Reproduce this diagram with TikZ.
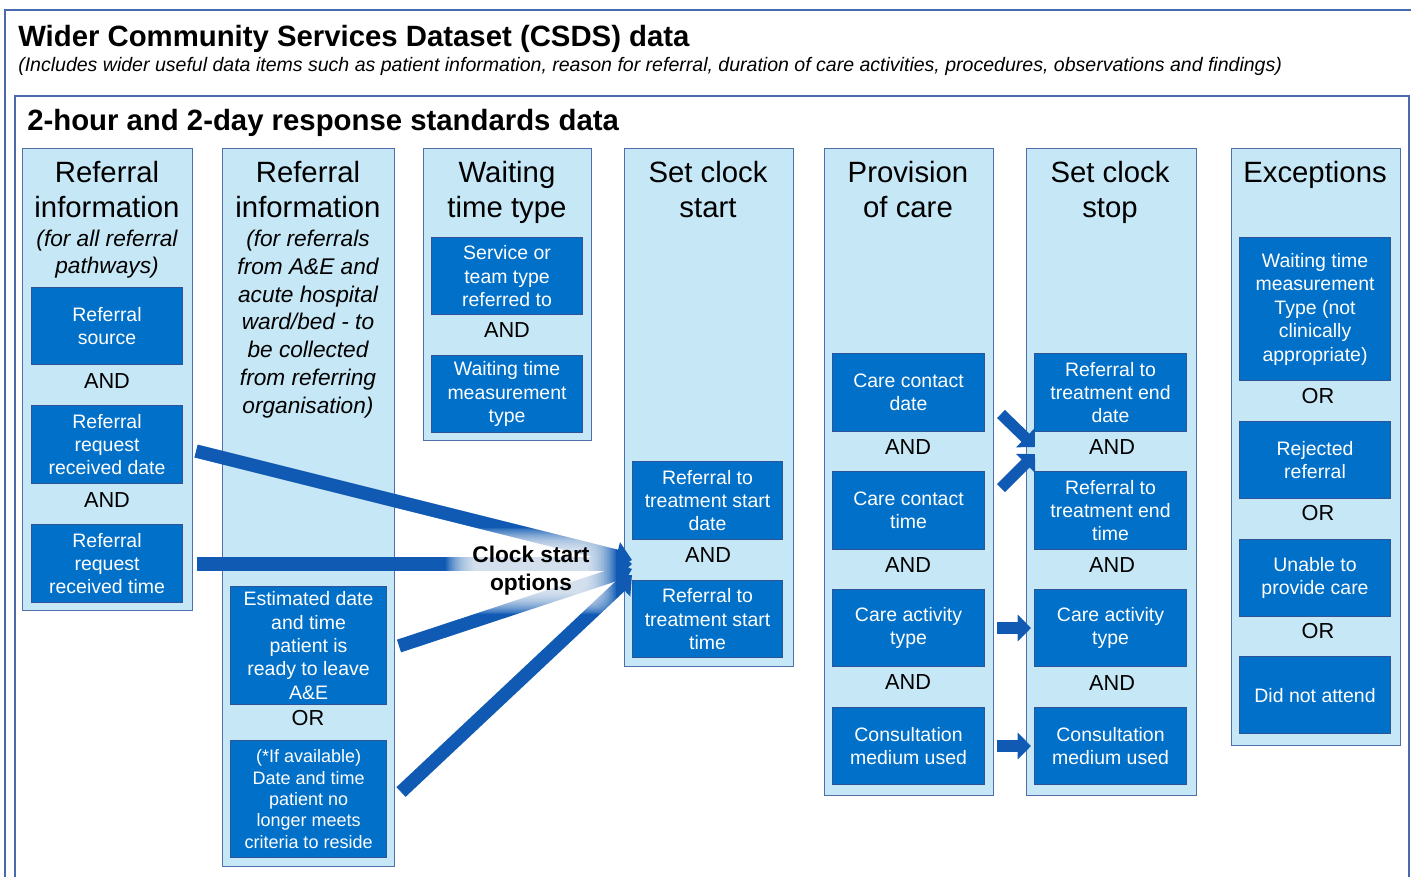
\documentclass[tikz,border=0pt]{standalone}
\usepackage{fontspec}
\setmainfont{Liberation Sans}
\usetikzlibrary{arrows.meta}
\definecolor{framec}{HTML}{4A6AAE}
\definecolor{colfill}{HTML}{C6E7F5}
\definecolor{colline}{HTML}{4F6FAB}
\definecolor{boxfill}{HTML}{0070C9}
\definecolor{boxline}{HTML}{2F5597}
\definecolor{bandc}{HTML}{105AB4}
\newcommand\fs[2]{\fontsize{#1}{#2}\selectfont}

\begin{document}
\begin{tikzpicture}[x=0.75pt,y=-0.75pt,
  frame/.style={draw=framec,line width=0.9pt},
  colbox/.style 2 args={draw=colline,fill=colfill,line width=0.9pt,anchor=north west,inner sep=0pt,
    minimum width=#1*0.75pt,minimum height=#2*0.75pt},
  dbox/.style 2 args={draw=boxline,fill=boxfill,text=white,line width=0.8pt,anchor=north west,inner sep=0pt,
    align=center,minimum width=#1*0.75pt,minimum height=#2*0.75pt,font=\fs{14.6}{17.6}},
  hdr/.style={font=\fs{22}{26.25},align=center,inner sep=0pt},
  sub/.style={font=\fs{17}{20.8}\itshape,align=center,inner sep=0pt},
  conj/.style={font=\fs{16.3}{19},inner sep=0pt},
  band/.style={draw=bandc,line width=10pt,-{Triangle[length=12pt,width=21pt]}},
  sarrow/.style={draw=bandc,line width=8.5pt,-{Triangle[length=10pt,width=19.5pt]}},
  halo/.style={fill=white,opacity=0.085,rounded corners=10pt,inner sep=0pt}]
\useasboundingbox (0,0) rectangle (1411,876);
\clip (0,0) rectangle (1411,876);

% outer and inner frames
\draw[frame] (5,10) rectangle (1430,900);
\node[anchor=base west,inner sep=0pt,font=\fs{22}{26}\bfseries] (title) at (18,46) {Wider Community Services Dataset (CSDS) data};
\node[anchor=base west,inner sep=0pt,font=\fs{14.65}{17}\itshape] (subtitle) at (18,71) {(Includes wider useful data items such as patient information, reason for referral, duration of care activities, procedures, observations and findings)};
\draw[frame] (15,96) rectangle (1409,900);
\node[anchor=base west,inner sep=0pt,font=\fs{22}{26}\bfseries] (sect) at (27,130) {2-hour and 2-day response standards data};

% columns
\node[colbox={170}{462}] (col1) at (22,148) {};
\node[colbox={172}{718}] (col2) at (222,148) {};
\node[colbox={168}{292}] (col3) at (423,148) {};
\node[colbox={169}{518}] (col4) at (624,148) {};
\node[colbox={169}{647}] (col5) at (824,148) {};
\node[colbox={170}{647}] (col6) at (1026,148) {};
\node[colbox={169}{597}] (col7) at (1231,148) {};

% column 1: referral information
\node[hdr] (h1) at (107,190) {Referral\\information};
\node[sub] (s1) at (107,254) {(for all referral\\pathways)};
\node[dbox={151}{77}] (b11) at (31,287) {Referral\\source};
\node[conj] at (107,381) {AND};
\node[dbox={151}{78}] (b12) at (31,405) {Referral\\request\\received date};
\node[conj] at (107,500) {AND};
\node[dbox={151}{78}] (b13) at (31,524) {Referral\\request\\received time};

% column 2: referral information from A&E
\node[hdr] (h2) at (308,190) {Referral\\information};
\node[sub] (s2) at (308,324) {(for referrals\\from A\&E and\\acute hospital\\ward/bed - to\\be collected\\from referring\\organisation)};
\node[dbox={156}{118}] (b21) at (230,586) {Estimated date\\and time\\patient is\\ready to leave\\A\&E};
\node[conj] at (308,718) {OR};
\node[dbox={156}{117},font=\fs{13.5}{16.1}] (b22) at (230,740) {(*If available)\\Date and time\\patient no\\longer meets\\criteria to reside};

% column 3: waiting time type
\node[hdr] (h3) at (507,192) {Waiting\\time type};
\node[dbox={151}{77}] (b31) at (431,237) {Service or\\team type\\referred to};
\node[conj] at (507,330) {AND};
\node[dbox={151}{77}] (b32) at (431,355) {Waiting time\\measurement\\type};

% column 4: set clock start
\node[hdr] (h4) at (708,190) {Set clock\\start};
\node[dbox={150}{78}] (b41) at (632,461) {Referral to\\treatment start\\date};
\node[conj] at (708,555) {AND};
\node[dbox={150}{77}] (b42) at (632,580) {Referral to\\treatment start\\time};

% column 5: provision of care
\node[hdr] (h5) at (908,190) {Provision\\of care};
\node[dbox={152}{78}] (b51) at (832,353) {Care contact\\date};
\node[conj] at (908,447) {AND};
\node[dbox={152}{78}] (b52) at (832,471) {Care contact\\time};
\node[conj] at (908,565) {AND};
\node[dbox={152}{77}] (b53) at (832,589) {Care activity\\type};
\node[conj] at (908,682) {AND};
\node[dbox={152}{77}] (b54) at (832,707) {Consultation\\medium used};

% column 6: set clock stop
\node[hdr] (h6) at (1110,192) {Set clock\\stop};
\node[dbox={152}{78}] (b61) at (1034,353) {Referral to\\treatment end\\date};
\node[conj] at (1112,447) {AND};
\node[dbox={152}{78}] (b62) at (1034,471) {Referral to\\treatment end\\time};
\node[conj] at (1112,565) {AND};
\node[dbox={152}{77}] (b63) at (1034,589) {Care activity\\type};
\node[conj] at (1112,683) {AND};
\node[dbox={152}{77}] (b64) at (1034,707) {Consultation\\medium used};

% column 7: exceptions
\node[hdr] (h7) at (1315,175) {Exceptions};
\node[dbox={151}{143}] (b71) at (1239,237) {Waiting time\\measurement\\Type (not\\clinically\\appropriate)};
\node[conj] at (1318,396) {OR};
\node[dbox={151}{77}] (b72) at (1239,421) {Rejected\\referral};
\node[conj] at (1318,513) {OR};
\node[dbox={151}{77}] (b73) at (1239,539) {Unable to\\provide care};
\node[conj] at (1318,631) {OR};
\node[dbox={151}{77}] (b74) at (1239,656) {Did not attend};

% clock start option bands
\coordinate (p1) at (196,451);
\coordinate (p2) at (197,564);
\coordinate (p3) at (399,646);
\coordinate (p4) at (401,792);
\coordinate (q1) at (632,560);
\coordinate (q2) at (632,564);
\coordinate (q3) at (632,569);
\coordinate (q4) at (632,575);
\draw[band] (p1) -- (q1);
\draw[band] (p2) -- (q2);
\draw[band] (p3) -- (q3);
\draw[band] (p4) -- (q4);

% soft white glow behind the label
\coordinate (cso) at (531,571);
\foreach \k in {0,...,19}
  \node[halo,minimum width={(170-3*\k)*0.75pt},minimum height={(86-2.2*\k)*0.75pt}] at (cso) {};
\node[font=\fs{17}{21}\bfseries,align=center,inner sep=0pt] (csolabel) at (cso) {Clock start\\options};

% provision of care to set clock stop
\coordinate (r1) at (1001,414);
\coordinate (r2) at (1001,488);
\coordinate (r3) at (997,628);
\coordinate (r4) at (997,746);
\coordinate (u1) at (1035,447);
\coordinate (u2) at (1035,454);
\coordinate (u3) at (1031,628);
\coordinate (u4) at (1031,746);
\draw[sarrow] (r1) -- (u1);
\draw[sarrow] (r2) -- (u2);
\draw[sarrow] (r3) -- (u3);
\draw[sarrow] (r4) -- (u4);
\end{tikzpicture}
\end{document}
